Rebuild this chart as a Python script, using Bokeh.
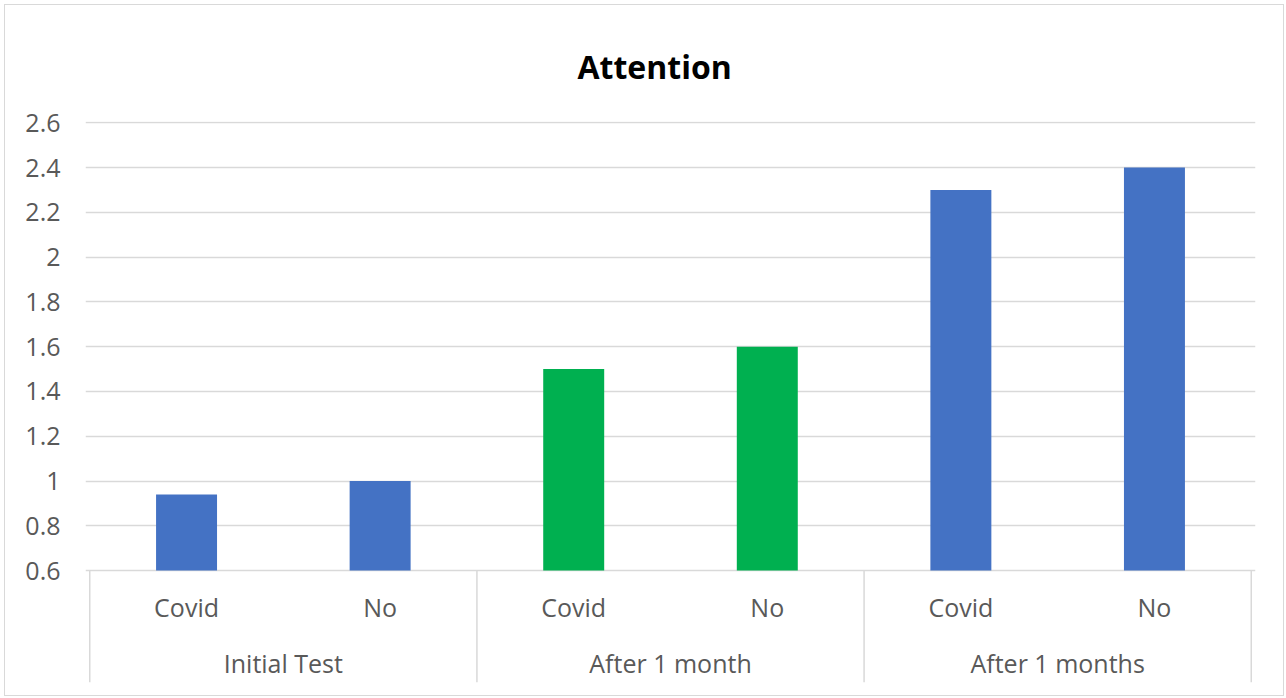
from bokeh.plotting import figure
from bokeh.models import FactorRange, FixedTicker, ColumnDataSource, Range1d
from bokeh.core.properties import value
from bokeh.embed import file_html
from bokeh.resources import INLINE

# ---- data ----
groups = ["Initial Test", "After 1 month", "After 1 months"]
subgroups = ["Covid", "No"]
values = [0.94, 1.0, 1.5, 1.6, 2.3, 2.4]
bar_colors = ["#4472C4", "#4472C4", "#00B050", "#00B050", "#4472C4", "#4472C4"]
y_ticks = [0.6, 0.8, 1.0, 1.2, 1.4, 1.6, 1.8, 2.0, 2.2, 2.4, 2.6]
y_tick_labels = ["0.6", "0.8", "1", "1.2", "1.4", "1.6", "1.8", "2", "2.2", "2.4", "2.6"]
title_text = "Attention"

factors = [(g, s) for g in groups for s in subgroups]

FONT = "Open Sans"
LABEL_COLOR = "#595959"
GRID_COLOR = "#D9D9D9"

y_base = y_ticks[0]
y_bottom = 0.1  # lower edge of category-label band

p = figure(
    x_range=FactorRange(*factors, factor_padding=0, group_padding=0,
                        range_padding=0.022, range_padding_units="absolute"),
    y_range=Range1d(y_bottom, y_ticks[-1] + 0.006),
    width=1280, height=692,
    output_backend="svg", toolbar_location=None,
    min_border_left=80, min_border_right=30, min_border_top=116, min_border_bottom=15,
    styles={"margin-left": "4px", "margin-top": "4px", "border": "1px solid #D9D9D9"},
)
p.outline_line_color = None
p.background_fill_color = "white"
p.border_fill_color = "white"

src = ColumnDataSource(dict(x=factors, top=values, color=bar_colors))
p.vbar(x="x", top="top", bottom=y_base, width=0.315, color="color",
       line_color=None, source=src)

# grid / axes
p.xaxis.visible = False
p.xgrid.visible = False
p.yaxis.ticker = FixedTicker(ticks=y_ticks)
p.yaxis.major_label_overrides = {t: l for t, l in zip(y_ticks, y_tick_labels)}
p.yaxis.axis_line_color = None
p.yaxis.major_tick_line_color = None
p.yaxis.minor_tick_line_color = None
p.yaxis.major_label_text_font = FONT
p.yaxis.major_label_text_font_size = "25px"
p.yaxis.major_label_text_color = LABEL_COLOR
p.yaxis.major_label_standoff = 19
p.ygrid.grid_line_color = GRID_COLOR
p.ygrid.grid_line_width = 1.5

# category label band: dividers
n = len(factors)
div_x = [i * len(subgroups) for i in range(len(groups) + 1)]
p.segment(x0=div_x, x1=div_x, y0=[y_base] * len(div_x), y1=[y_bottom] * len(div_x),
          line_color=GRID_COLOR, line_width=1.5)

# sub labels
p.text(x=factors, y=[0.439] * n, text=[s for g, s in factors],
       text_font=value(FONT), text_font_size="25px", text_color=LABEL_COLOR,
       text_align="center", text_baseline="middle")
# group labels
p.text(x=groups, y=[0.189] * len(groups), text=groups,
       text_font=value(FONT), text_font_size="25px", text_color=LABEL_COLOR,
       text_align="center", text_baseline="middle")

p.title.text = title_text
p.title.align = "left"
p.title.offset = 492
p.title.vertical_align = "top"
p.title.text_font = FONT
p.title.text_font_size = "32px"
p.title.text_font_style = "bold"
p.title.text_color = "black"
p.title.standoff = 64

open("out.html", "w").write(file_html(p, INLINE))
